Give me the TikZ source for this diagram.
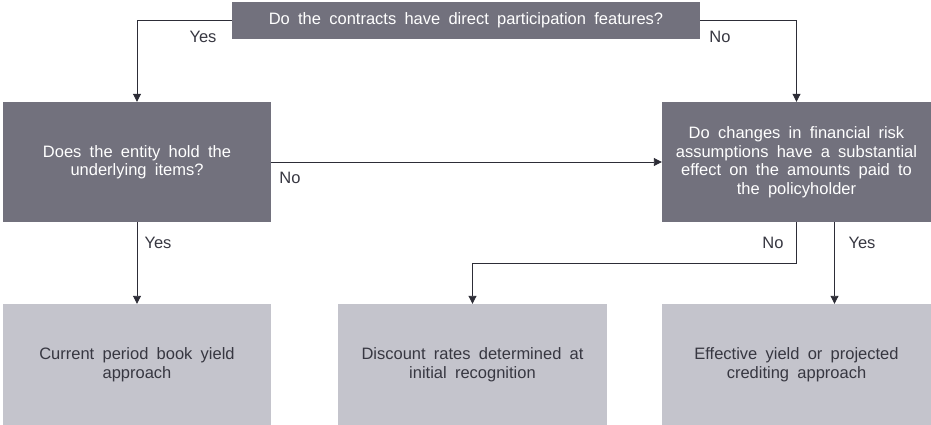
\documentclass[tikz,border=0pt]{standalone}
\usepackage{fontspec}
\setmainfont[WordSpace=1.8]{Liberation Sans}
\usetikzlibrary{arrows.meta}
\definecolor{darkbox}{RGB}{114,113,125}
\definecolor{lightbox}{RGB}{196,196,204}
\definecolor{linecol}{RGB}{45,45,55}
\definecolor{txtdark}{RGB}{55,55,65}
\tikzset{
  qbox/.style={fill=darkbox, text=white, align=center, inner sep=0pt,
    font=\fontsize{16.5}{18.5}\selectfont},
  rbox/.style={fill=lightbox, text=txtdark, align=center, inner sep=0pt,
    font=\fontsize{16.5}{18.5}\selectfont, minimum height=121pt},
  lbl/.style={text=txtdark, font=\fontsize{16.5}{18.5}\selectfont, inner sep=0pt},
  arr/.style={draw=linecol, line width=0.9pt, -{Triangle[width=8pt,length=8pt]}},
  ln/.style={draw=linecol, line width=0.9pt}
}
\begin{document}
\begin{tikzpicture}[x=1pt,y=-1pt]
\useasboundingbox (0,0) rectangle (931,425);
\node[qbox, minimum width=468pt, minimum height=37pt] (q1) at (466,20.5)
  {Do the contracts have direct participation features?};
\node[qbox, minimum width=268pt, minimum height=120pt] (q2) at (137,162)
  {Does the entity hold the\\underlying items?};
\node[qbox, minimum width=269pt, minimum height=120pt] (q3) at (796.5,162)
  {Do changes in financial risk\\assumptions have a substantial\\effect on the amounts paid to\\the policyholder};
\node[rbox, minimum width=268pt] (r1) at (137,364.5)
  {Current period book yield\\approach};
\node[rbox, minimum width=269pt] (r2) at (472.5,364.5)
  {Discount rates determined at\\initial recognition};
\node[rbox, minimum width=269pt] (r3) at (796.5,364.5)
  {Effective yield or projected\\crediting approach};

\draw[arr] (q1.west) -| (q2.north);
\draw[arr] (q1.east) -| (q3.north);
\draw[arr] (q2.east) -- (q3.west);
\draw[arr] (q2.south) -- (r1.north);
\draw[arr] (q3.south) -- ++(0,41) -| (r2.north);
\draw[arr] ([xshift=38pt]q3.south) -- ([xshift=38pt]r3.north);

\node[lbl] (l1) at (203,37) {Yes};
\node[lbl] (l2) at (720,37) {No};
\node[lbl] (l3) at (290,178) {No};
\node[lbl] (l4) at (158,243) {Yes};
\node[lbl] (l5) at (773,243) {No};
\node[lbl] (l6) at (862,243) {Yes};
\end{tikzpicture}
\end{document}
